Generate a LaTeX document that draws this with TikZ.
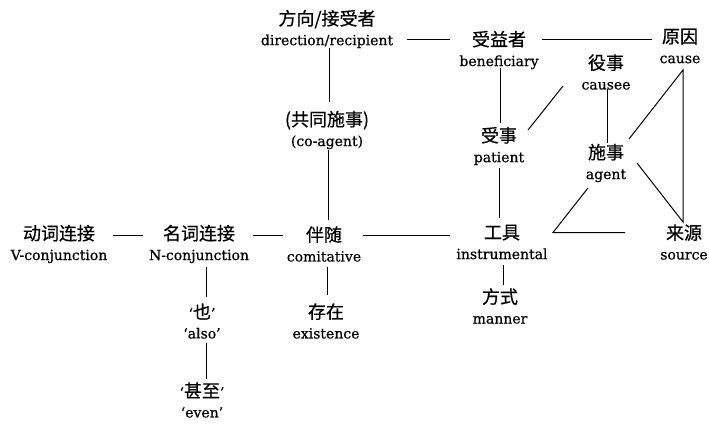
\documentclass[tikz,border=0pt]{standalone}
\usepackage{fontspec}
\setmainfont{DejaVu Serif}[FakeBold=0.6]
\newfontfamily\cjkfam{Noto Sans CJK SC}[FakeBold=0.6]
\usetikzlibrary{calc}
% Chinese term on the upper line of each label
\newcommand\zh[1]{{\fontsize{18}{20}\selectfont\cjkfam #1}}
\tikzset{
  term/.style={align=center, inner sep=0pt, font=\fontsize{14}{20}\selectfont},
  link/.style={line width=1pt, black},
}
\begin{document}
\begin{tikzpicture}[x=1pt,y=-1pt]
\useasboundingbox[fill=white] (0,0) rectangle (709,423);

% semantic roles
\node[term] (dir)   at (327,29)  {\zh{方向/接受者}\\direction/recipient};
\node[term] (ben)   at (499,50)  {\zh{受益者}\\beneficiary};
\node[term] (cau)   at (680,46)  {\zh{原因}\\cause};
\node[term] (cse)   at (606,72)  {\zh{役事}\\causee};
\node[term] (coag)  at (327,130) {\zh{(共同施事)}\\(co-agent)};
\node[term] (pat)   at (499,146) {\zh{受事}\\patient};
\node[term] (agt)   at (606,163) {\zh{施事}\\agent};
\node[term] (vc)    at (59,244)  {\zh{动词连接}\\V-conjunction};
\node[term] (nc)    at (199,244) {\zh{名词连接}\\N-conjunction};
\node[term] (com)   at (324,244) {\zh{伴随}\\comitative};
\node[term] (ins)   at (502,242) {\zh{工具}\\instrumental};
\node[term] (src)   at (684,242) {\zh{来源}\\source};
\node[term] (man)   at (500,306) {\zh{方式}\\manner};
\node[term] (exi)   at (326,321) {\zh{存在}\\existence};
\node[term] (also)  at (202,321) {‘\zh{也}’\\‘also’};
\node[term] (even)  at (202,400) {‘\zh{甚至}’\\‘even’};

% connections between roles
\draw[link] ($(dir)+(80,10)$)  -- ($(ben)+(-49,-11)$);
\draw[link] ($(ben)+(43,-11)$) -- ($(cau)+(-28,-7)$);
\draw[link] ($(dir)+(2,19)$)   -- ($(coag)+(2,-28)$);
\draw[link] ($(coag)+(1,20)$)  -- ($(com)+(4,-24)$);
\draw[link] ($(ben)+(1,18)$)   -- ($(pat)+(1,-23)$);
\draw[link] ($(pat)+(0,22)$)   -- ($(ins)+(-3,-24)$);
\draw[link] ($(pat)+(29,-16)$) -- ($(cse)+(-43,14)$);
\draw[link] ($(cse)+(1,17)$)   -- ($(agt)+(1,-20)$);
\draw[link] ($(agt)+(23,-24)$) -- ($(cau)+(3,24)$) -- ($(src)+(-1,-20)$) -- ($(agt)+(31,0)$);
\draw[link] ($(agt)+(-18,25)$) -- ($(ins)+(51,-9.5)$) -- ($(src)+(-59,-9.5)$);
\draw[link] ($(vc)+(54,-9)$)   -- ($(nc)+(-56,-9)$);
\draw[link] ($(nc)+(54,-9)$)   -- ($(com)+(-41,-9)$);
\draw[link] ($(com)+(39,-9)$)  -- ($(ins)+(-52,-7)$);
\draw[link] ($(nc)+(7,23)$)    -- ($(also)+(4,-24)$);
\draw[link] ($(also)+(4,22)$)  -- ($(even)+(4,-21)$);
\draw[link] ($(com)+(3,23)$)   -- ($(exi)+(1,-26)$);
\draw[link] ($(ins)+(1,23)$)   -- ($(man)+(3,-21)$);
\end{tikzpicture}
\end{document}
